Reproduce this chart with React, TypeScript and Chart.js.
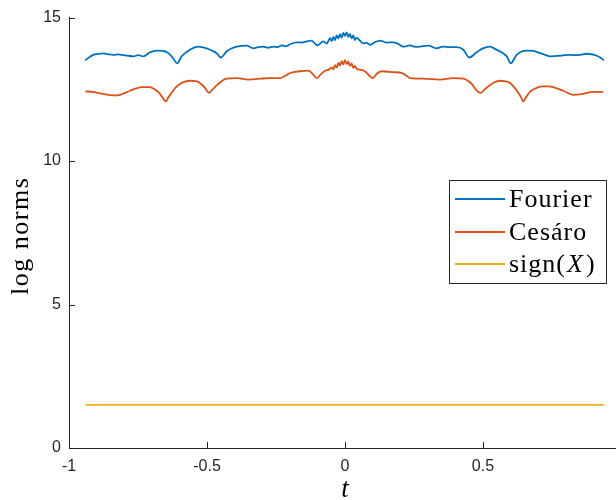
import React, { useEffect, useRef } from "react";
import { Chart, registerables } from "chart.js";

Chart.register(...registerables);

const T_FOURIER = [
  -0.941, -0.925, -0.912, -0.895, -0.876, -0.858, -0.839, -0.82, -0.803, -0.785,
  -0.767, -0.749, -0.731, -0.707, -0.682, -0.662, -0.646, -0.628, -0.608, -0.592,
  -0.562, -0.532, -0.501, -0.48, -0.465, -0.45, -0.429, -0.41, -0.392, -0.356,
  -0.332, -0.314, -0.296, -0.278, -0.26, -0.245, -0.229, -0.214, -0.199, -0.175,
  -0.157, -0.139, -0.121, -0.1, -0.079, -0.066, -0.054, -0.048, -0.042, -0.036,
  -0.03, -0.024, -0.018, -0.012, -0.006, 0.0, 0.006, 0.012, 0.018, 0.024,
  0.03, 0.036, 0.042, 0.054, 0.066, 0.079, 0.091, 0.109, 0.127, 0.15,
  0.175, 0.194, 0.211, 0.236, 0.254, 0.272, 0.302, 0.332, 0.356, 0.38,
  0.405, 0.429, 0.45, 0.477, 0.5, 0.525, 0.545, 0.562, 0.586, 0.601,
  0.622, 0.646, 0.662, 0.682, 0.707, 0.725, 0.743, 0.761, 0.779, 0.797,
  0.815, 0.833, 0.851, 0.876, 0.895, 0.912, 0.925, 0.938,
];
const FOURIER = [
  13.51, 13.63, 13.7, 13.73, 13.75, 13.72, 13.7, 13.72, 13.69, 13.67,
  13.65, 13.69, 13.65, 13.79, 13.85, 13.84, 13.8, 13.65, 13.41, 13.65,
  13.88, 13.99, 13.93, 13.84, 13.76, 13.61, 13.82, 13.93, 13.99, 14.02,
  13.93, 13.97, 13.99, 13.95, 13.99, 13.97, 14.03, 14.0, 14.07, 14.14,
  14.13, 14.17, 14.2, 14.03, 14.17, 14.1, 14.28, 14.18, 14.33, 14.22,
  14.38, 14.28, 14.42, 14.3, 14.47, 14.36, 14.48, 14.33, 14.43, 14.28,
  14.38, 14.22, 14.3, 14.2, 14.1, 14.12, 14.05, 14.15, 14.2, 14.13,
  14.14, 14.08, 13.99, 14.03, 13.98, 13.99, 14.02, 13.93, 13.99, 13.97,
  13.97, 13.88, 13.61, 13.79, 13.93, 13.99, 13.9, 13.82, 13.65, 13.41,
  13.7, 13.84, 13.85, 13.84, 13.76, 13.7, 13.65, 13.66, 13.67, 13.69,
  13.7, 13.69, 13.7, 13.74, 13.72, 13.67, 13.61, 13.51,
];

const T_CESARO = [
  -0.941, -0.912, -0.876, -0.839, -0.815, -0.779, -0.757, -0.737, -0.707, -0.69,
  -0.672, -0.66, -0.649, -0.64, -0.628, -0.614, -0.598, -0.58, -0.562, -0.545,
  -0.532, -0.518, -0.507, -0.5, -0.493, -0.482, -0.471, -0.453, -0.429, -0.392,
  -0.35, -0.308, -0.272, -0.236, -0.215, -0.199, -0.163, -0.133, -0.118, -0.103,
  -0.088, -0.072, -0.06, -0.048, -0.042, -0.036, -0.03, -0.024, -0.018, -0.012,
  -0.006, 0.0, 0.006, 0.012, 0.018, 0.024, 0.03, 0.036, 0.042, 0.057,
  0.072, 0.086, 0.1, 0.116, 0.133, 0.175, 0.205, 0.222, 0.236, 0.284,
  0.344, 0.392, 0.429, 0.445, 0.459, 0.472, 0.483, 0.493, 0.506, 0.519,
  0.54, 0.562, 0.58, 0.598, 0.614, 0.628, 0.638, 0.646, 0.656, 0.67,
  0.69, 0.713, 0.735, 0.755, 0.791, 0.827, 0.862, 0.899, 0.936,
];
const CESARO = [
  12.43, 12.41, 12.34, 12.29, 12.31, 12.45, 12.53, 12.58, 12.58, 12.5,
  12.36, 12.2, 12.08, 12.22, 12.38, 12.56, 12.69, 12.77, 12.8, 12.79,
  12.76, 12.66, 12.55, 12.44, 12.38, 12.47, 12.58, 12.74, 12.87, 12.89,
  12.84, 12.87, 12.89, 12.89, 12.98, 13.07, 13.13, 13.15, 13.05, 12.89,
  13.02, 13.15, 13.18, 13.26, 13.2, 13.34, 13.26, 13.42, 13.33, 13.48,
  13.37, 13.52, 13.38, 13.47, 13.32, 13.4, 13.25, 13.32, 13.22, 13.18,
  13.13, 13.0, 12.89, 13.05, 13.13, 13.1, 13.07, 12.98, 12.89, 12.87,
  12.84, 12.89, 12.87, 12.8, 12.69, 12.52, 12.41, 12.38, 12.5, 12.6,
  12.74, 12.8, 12.78, 12.72, 12.56, 12.38, 12.22, 12.08, 12.22, 12.41,
  12.53, 12.6, 12.6, 12.58, 12.45, 12.31, 12.34, 12.41, 12.41,
];

const T_SIGN = [-0.94, 0.94];
const SIGN = [1.5, 1.5];

const X_TICKS = [-1, -0.5, 0, 0.5];
const Y_TICKS = [0, 5, 10, 15];
const SERIES_LABELS = ["Fourier", "Cesáro", "sign(X)"];
const COLORS = ["#0072BD", "#D95319", "#EDB120"];

const toPoints = (xs: number[], ys: number[]) => xs.map((x, i) => ({ x, y: ys[i] }));

const AXIS = "#262626";
const SERIF = "'Liberation Serif', 'DejaVu Serif', serif";

const decorPlugin = {
  id: "decor",
  afterDraw(chart: any) {
    const ctx = chart.ctx as any;
    const xs = chart.scales.x;
    const ys = chart.scales.y;
    const { left, top, bottom } = chart.chartArea;
    ctx.save();
    ctx.strokeStyle = AXIS;
    ctx.lineWidth = 1;
    // inward tick marks
    for (const v of X_TICKS) {
      const px = Math.round(xs.getPixelForValue(v)) + 0.5;
      ctx.beginPath();
      ctx.moveTo(px, bottom);
      ctx.lineTo(px, bottom - 6);
      ctx.stroke();
    }
    for (const v of Y_TICKS) {
      const py = Math.round(ys.getPixelForValue(v)) + 0.5;
      ctx.beginPath();
      ctx.moveTo(left, py);
      ctx.lineTo(left + 6, py);
      ctx.stroke();
    }
    // axis titles
    ctx.fillStyle = "#000";
    ctx.font = `26px ${SERIF}`;
    ctx.save();
    ctx.letterSpacing = "1.5px";
    ctx.translate(28, (top + bottom) / 2 + 3);
    ctx.rotate(-Math.PI / 2);
    ctx.textAlign = "center";
    ctx.textBaseline = "alphabetic";
    ctx.fillText("log norms", 0, 0);
    ctx.restore();
    ctx.font = `italic 27px ${SERIF}`;
    ctx.textAlign = "center";
    ctx.textBaseline = "alphabetic";
    ctx.fillText("t", xs.getPixelForValue(0), 497);

    // legend
    const bx = 449.5, by = 180.5, bw = 157, bh = 103;
    ctx.fillStyle = "#fff";
    ctx.fillRect(bx, by, bw, bh);
    ctx.strokeStyle = AXIS;
    ctx.lineWidth = 1;
    ctx.strokeRect(bx, by, bw, bh);
    const rows = [199, 232, 264];
    ctx.letterSpacing = "1px";
    chart.data.datasets.forEach((ds: any, i: number) => {
      const y = rows[i];
      ctx.strokeStyle = ds.borderColor;
      ctx.lineWidth = 1.8;
      ctx.beginPath();
      ctx.moveTo(455, y);
      ctx.lineTo(505, y);
      ctx.stroke();
      ctx.fillStyle = "#000";
      ctx.textAlign = "left";
      ctx.textBaseline = "alphabetic";
      const base = y + 8;
      const label: string = ds.label;
      const m = label.match(/^(.*\()(.+)(\))$/);
      if (m) {
        let x = 509;
        ctx.font = `26px ${SERIF}`;
        ctx.fillText(m[1], x, base);
        x += ctx.measureText(m[1]).width + 1;
        ctx.font = `italic 26px ${SERIF}`;
        ctx.fillText(m[2], x, base);
        x += ctx.measureText(m[2]).width + 2;
        ctx.font = `26px ${SERIF}`;
        ctx.fillText(m[3], x, base);
      } else {
        ctx.font = `26px ${SERIF}`;
        ctx.fillText(label, 509, base);
      }
    });
    ctx.restore();
  },
};

export default function App() {
  const ref = useRef<HTMLCanvasElement | null>(null);
  useEffect(() => {
    if (!ref.current) return;
    const series = [
      toPoints(T_FOURIER, FOURIER),
      toPoints(T_CESARO, CESARO),
      toPoints(T_SIGN, SIGN),
    ];
    const chart = new Chart(ref.current, {
      type: "line",
      data: {
        datasets: series.map((data, i) => ({
          label: SERIES_LABELS[i],
          data,
          borderColor: COLORS[i],
          backgroundColor: COLORS[i],
          borderWidth: 1.8,
          pointRadius: 0,
          fill: false,
          cubicInterpolationMode: "monotone" as const,
        })),
      },
      options: {
        responsive: false,
        animation: false,
        layout: { padding: { top: 16, right: 0, left: 0, bottom: 0 } },
        plugins: { legend: { display: false }, tooltip: { enabled: false } },
        scales: {
          x: {
            type: "linear",
            min: -1,
            max: 0.982,
            afterFit: (s: any) => {
              s.height = 52;
            },
            afterBuildTicks: (s: any) => {
              s.ticks = X_TICKS.map((v) => ({ value: v }));
            },
            grid: { display: true, drawOnChartArea: false, drawTicks: false },
            border: { display: true, color: AXIS, width: 1 },
            ticks: {
              padding: 9,
              color: AXIS,
              font: { family: "'Liberation Sans', Arial, sans-serif", size: 16 },
              maxRotation: 0,
              autoSkip: false,
              callback: (v: any) => String(v),
            },
          },
          y: {
            type: "linear",
            min: 0,
            max: 15,
            afterFit: (s: any) => {
              s.width = 69;
            },
            afterBuildTicks: (s: any) => {
              s.ticks = Y_TICKS.map((v) => ({ value: v }));
            },
            grid: { display: true, drawOnChartArea: false, drawTicks: false },
            border: { display: true, color: AXIS, width: 1 },
            ticks: {
              padding: 8,
              color: AXIS,
              font: { family: "'Liberation Sans', Arial, sans-serif", size: 16 },
              autoSkip: false,
              callback: (v: any) => String(v),
            },
          },
        },
      },
      plugins: [decorPlugin],
    });
    return () => chart.destroy();
  }, []);
  return (
    <div style={{ position: "fixed", left: 0, top: 0, width: 616, height: 500, background: "#fff" }}>
      <canvas ref={ref} width={616} height={500} style={{ display: "block" }} />
    </div>
  );
}
